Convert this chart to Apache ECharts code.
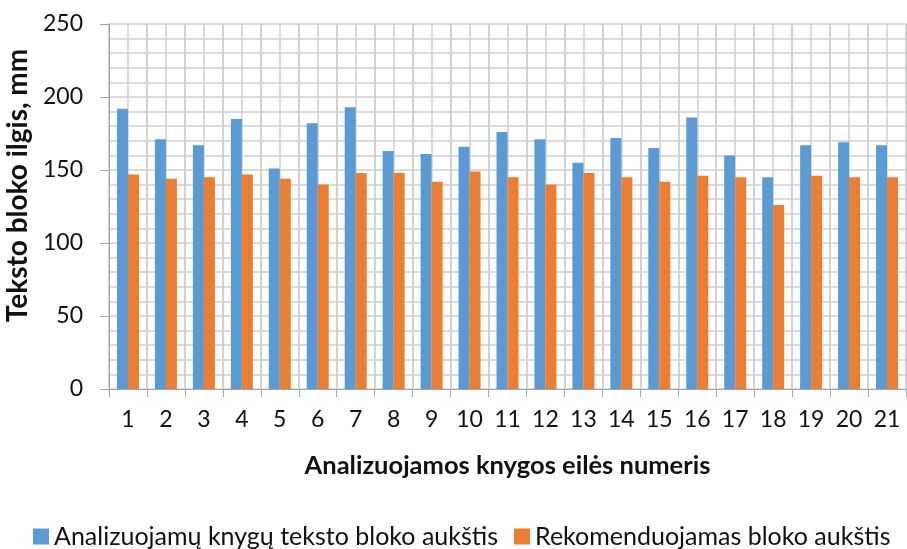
<!DOCTYPE html>
<html><head><meta charset="utf-8">
<script src="https://cdn.jsdelivr.net/npm/echarts@6/dist/echarts.min.js"></script>
<style>html,body{margin:0;padding:0;background:#fff}#c{width:907px;height:549px}</style>
</head><body><div id="c"></div>
<script>
const categories = ['1','2','3','4','5','6','7','8','9','10','11','12','13','14','15','16','17','18','19','20','21'];
const analyzed = [192,171,167,185,151,182,193,163,161,166,176,171,155,172,165,186,160,145,167,169,167];
const recommended = [147,144,145,147,144,140,148,148,142,149,145,140,148,145,142,146,145,126,146,145,145];
const seriesNames = ['Analizuojamų knygų teksto bloko aukštis','Rekomenduojamas bloko aukštis'];
const yTitle = 'Teksto bloko ilgis, mm';
const xTitle = 'Analizuojamos knygos eilės numeris';
const halfSlots = Array.from({ length: categories.length * 2 }, () => '');

const font = 'Lato, "Open Sans", sans-serif';
const grid = '#cfcfcf';
const chart = echarts.init(document.getElementById('c'));
chart.setOption({
  animation: false,
  textStyle: { fontFamily: font },
  grid: { left: 109, right: 1, top: 24, bottom: 160, containLabel: false, outerBoundsMode: 'none' },
  legend: {
    top: 519, left: 28, itemWidth: 16, itemHeight: 16, itemGap: 16,
    icon: 'rect',
    textStyle: { fontSize: 25, color: '#111', fontFamily: font },
    data: seriesNames
  },
  xAxis: [{
    type: 'category', data: categories,
    axisLine: { lineStyle: { color: '#a6a6a6' } },
    axisTick: { show: true, length: 8, lineStyle: { color: '#a6a6a6' } },
    axisLabel: { fontSize: 23, color: '#111', margin: 19, fontFamily: font },
    splitLine: { show: true, lineStyle: { color: grid, width: 1.5 } },
    name: xTitle, nameLocation: 'middle', nameGap: 64,
    nameTextStyle: { fontSize: 25.5, fontWeight: 'bold', color: '#111', fontFamily: font }
  }, {
    type: 'category', data: halfSlots, position: 'bottom',
    axisLine: { show: false }, axisTick: { show: false }, axisLabel: { show: false },
    splitLine: { show: true, interval: 0, lineStyle: { color: grid, width: 1.5 } }
  }],
  yAxis: {
    type: 'value', min: 0, max: 250, interval: 50,
    axisLine: { show: true, lineStyle: { color: '#a6a6a6' } },
    axisTick: { show: true, length: 9, lineStyle: { color: '#a6a6a6' } },
    axisLabel: { fontSize: 23, color: '#111', margin: 26, fontFamily: font },
    splitLine: { show: true, lineStyle: { color: grid, width: 1.5 } },
    minorTick: { show: false, splitNumber: 5 },
    minorSplitLine: { show: true, lineStyle: { color: grid, width: 1.5 } },
    name: yTitle, nameLocation: 'middle', nameGap: 67, nameRotate: 90,
    nameTextStyle: { fontSize: 28, fontWeight: 'bold', color: '#111', fontFamily: font, padding: [0, 0, 0, 42] }
  },
  series: [
    { name: seriesNames[0], type: 'bar', data: analyzed, barWidth: 11, barGap: '0%', xAxisIndex: 0,
      itemStyle: { color: '#5B9BD5' } },
    { name: seriesNames[1], type: 'bar', data: recommended, barWidth: 11, barGap: '0%', xAxisIndex: 0,
      itemStyle: { color: '#ED7D31' } },
    { type: 'scatter', xAxisIndex: 1, data: [], silent: true }
  ]
});
</script></body></html>
